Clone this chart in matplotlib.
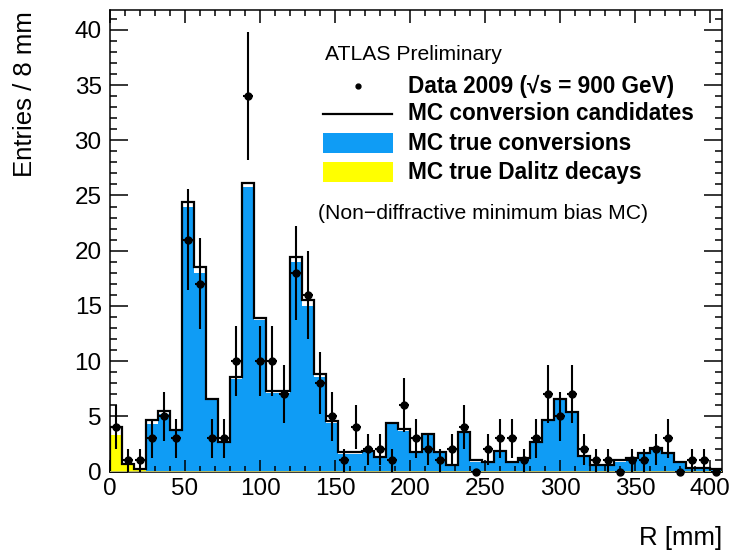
# ATLAS conversion radius plot: data 2009 vs MC (true conversions / Dalitz)
import numpy as np
import matplotlib
matplotlib.use("Agg")
import matplotlib.pyplot as plt
from matplotlib.patches import Rectangle
from matplotlib.lines import Line2D
from matplotlib.ticker import MultipleLocator

# ---------------- data (8 mm bins, 0..408 mm) ----------------
BIN_W = 8
R_EDGES = np.arange(0, 408 + BIN_W, BIN_W)

# data 2009 counts per bin
data_counts = [4, 1, 1, 3, 5, 3, 21, 17, 3, 3,
               10, 34, 10, 10, 7, 18, 16, 8, 5, 1,
               4, 2, 2, 1, 6, 3, 2, 1, 2, 4,
               0, 2, 3, 3, 1, 3, 7, 5, 7, 2,
               1, 1, 0, 1, 1, 2, 3, 0, 1, 1, 0]

# MC conversion candidates (black line)
mc_candidates = [4.0, 0.7, 0.2, 4.7, 5.5, 3.8, 24.4, 18.5, 6.6, 2.7,
                 8.6, 26.1, 13.9, 7.3, 7.3, 19.4, 15.5, 8.8, 4.6, 1.75,
                 1.75, 1.9, 1.3, 4.4, 3.85, 1.8, 3.4, 1.8, 0.6, 3.6,
                 1.0, 0.85, 1.9, 0.85, 1.2, 2.7, 4.7, 6.6, 5.4, 1.36,
                 0.6, 0.6, 1.0, 1.25, 1.65, 2.15, 1.65, 0.9, 0.35, 0.35, 0.2]

# MC true conversions (blue)
mc_true_conv = [0.1, 0.1, 0.05, 4.3, 5.2, 3.7, 24.0, 18.0, 6.5, 2.6,
                8.4, 25.8, 13.7, 7.1, 7.1, 19.0, 15.0, 8.6, 4.4, 1.6,
                1.6, 1.8, 1.2, 4.3, 3.7, 1.7, 3.3, 1.7, 0.5, 3.5,
                0.9, 0.75, 1.8, 0.8, 1.1, 2.6, 4.6, 6.5, 5.3, 1.3,
                0.5, 0.5, 0.9, 1.2, 1.6, 2.1, 1.6, 0.85, 0.3, 0.3, 0.15]

# MC true Dalitz decays (yellow), only first bins non zero
mc_dalitz = [3.3, 0.55, 0.2] + [0.0] * 48

BLUE = "#0f9cf5"
YELLOW = "#ffff00"
FONT = ["Liberation Sans", "DejaVu Sans"]

W, H = 736, 554
plt.rcParams["font.family"] = FONT


def fx(px):
    return px / W


def fy(py):
    return 1 - py / H


fig = plt.figure(figsize=(W / 100, H / 100), dpi=100)
ax = fig.add_axes([fx(110), fy(471.5), fx(722) - fx(110), (471.5 - 10) / H])

ax.stairs(mc_true_conv, R_EDGES, fill=True, color=BLUE, lw=0, zorder=1)
ax.stairs(mc_dalitz, R_EDGES, fill=True, color=YELLOW, lw=0, zorder=2)
ax.stairs(mc_candidates, R_EDGES, color="black", lw=1.6, zorder=3)
ax.axhline(0, color="#c9c96a", lw=2.0, zorder=3.5)

centers = R_EDGES[:-1] + BIN_W / 2
counts = np.array(data_counts, float)
ax.errorbar(centers, counts, yerr=np.sqrt(counts), xerr=BIN_W / 2 * 0.8,
            fmt="none", ecolor="black", elinewidth=1.5, capsize=0, zorder=4)
ax.plot(centers, counts, "o", color="black", ms=5, zorder=5, clip_on=False)

ax.set_xlim(0, 408)
ax.set_ylim(0, 41.8)
ax.xaxis.set_major_locator(MultipleLocator(50))
ax.xaxis.set_minor_locator(MultipleLocator(10))
ax.yaxis.set_major_locator(MultipleLocator(5))
ax.yaxis.set_minor_locator(MultipleLocator(1))
ax.tick_params(which="both", direction="in", top=True, right=True,
               labelsize=17.5, width=1.1)
ax.tick_params(axis="y", which="major", length=13, pad=6)
ax.tick_params(axis="y", which="minor", length=5)
ax.tick_params(axis="x", which="major", length=9, pad=5)
ax.tick_params(axis="x", which="minor", length=4.5)
for s in ax.spines.values():
    s.set_linewidth(1.1)

fig.text(fx(25), fy(11), "Entries / 8 mm", rotation=90, ha="center", va="top",
         fontsize=18.5)
fig.text(fx(722), fy(538), "R [mm]", ha="right", va="center", fontsize=18.5)

# ---------------- legend block ----------------
LEG_BOLD = 16.3
LEG_NORM = 15.2
fig.text(fx(325), fy(55), "ATLAS Preliminary", ha="left", va="center",
         fontsize=LEG_NORM)
fig.add_artist(Line2D([fx(358)], [fy(86)], marker="o", ms=3.5, color="black"))
fig.text(fx(408), fy(86), "Data 2009 (\u221as = 900 GeV)", ha="left",
         va="center", fontsize=LEG_BOLD, fontweight="bold")
fig.add_artist(Line2D([fx(323), fx(392)], [fy(114), fy(114)], color="black", lw=1.6))
fig.text(fx(408), fy(114), "MC conversion candidates", ha="left", va="center",
         fontsize=LEG_BOLD, fontweight="bold")
fig.add_artist(Rectangle((fx(323), fy(153)), fx(393) - fx(323), 20 / H,
                         facecolor=BLUE, edgecolor="none", transform=fig.transFigure))
fig.text(fx(408), fy(143), "MC true conversions", ha="left", va="center",
         fontsize=LEG_BOLD, fontweight="bold")
fig.add_artist(Rectangle((fx(323), fy(182)), fx(393) - fx(323), 20 / H,
                         facecolor=YELLOW, edgecolor="none", transform=fig.transFigure))
fig.text(fx(408), fy(172), "MC true Dalitz decays", ha="left", va="center",
         fontsize=LEG_BOLD, fontweight="bold")
fig.text(fx(318), fy(214), "(Non\u2212diffractive minimum bias MC)", ha="left",
         va="center", fontsize=LEG_NORM)

fig.savefig("out.png", dpi=100)
